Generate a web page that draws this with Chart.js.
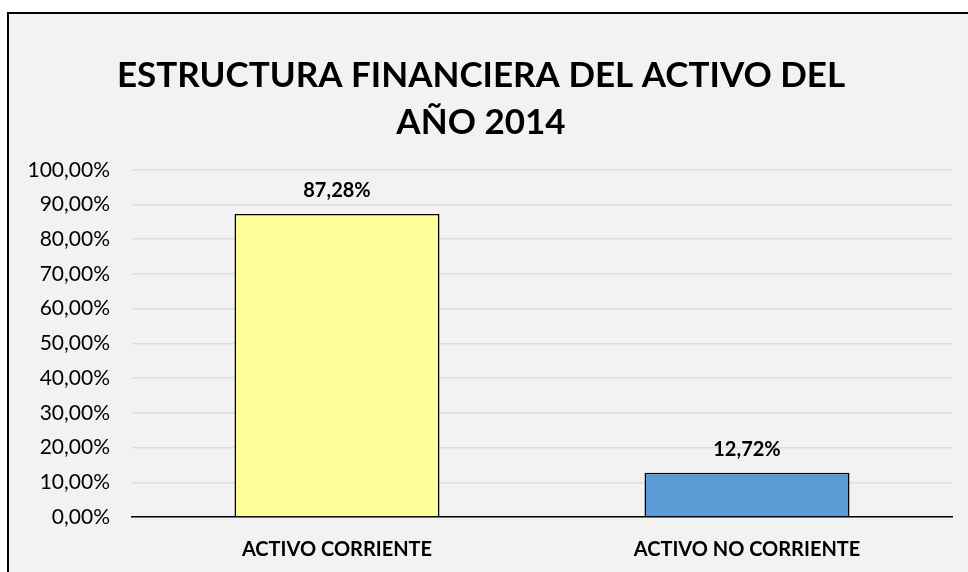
<!DOCTYPE html>
<html>
<head>
<meta charset="utf-8">
<script src="https://cdn.jsdelivr.net/npm/chart.js@4/dist/chart.umd.min.js"></script>
<style>
  html, body { margin:0; padding:0; background:#fff; }
  #wrap { position:relative; width:968px; height:572px; overflow:hidden; }
  #frame { position:absolute; left:7px; top:12px; width:980px; height:600px; background:#f2f2f2; border:2px solid #000; }
  #chart { position:absolute; left:0; top:0; }
</style>
</head>
<body>
<div id="wrap">
  <div id="frame"></div>
  <canvas id="chart" width="968" height="572"></canvas>
</div>
<script>
const categories = ['ACTIVO CORRIENTE', 'ACTIVO NO CORRIENTE'];
const values = [87.28, 12.72];
const barColors = ['#ffff99', '#5b9bd5'];
const titleLines = ['ESTRUCTURA FINANCIERA DEL ACTIVO DEL', 'AÑO 2014'];

const FONT = 'Lato, "Open Sans", sans-serif';
const pct = v => v.toFixed(2).replace('.', ',') + '%';

const valueLabels = {
  id: 'valueLabels',
  afterDatasetsDraw(chart){
    const ctx = chart.ctx;
    const meta = chart.getDatasetMeta(0);
    ctx.save();
    ctx.font = `bold 20px ${FONT}`;
    ctx.fillStyle = '#000';
    ctx.textAlign = 'center';
    ctx.textBaseline = 'middle';
    meta.data.forEach((bar, i) => {
      ctx.fillText(pct(values[i]), bar.x, bar.y - 23);
    });
    ctx.restore();
  }
};

new Chart(document.getElementById('chart').getContext('2d'), {
  type: 'bar',
  data: {
    labels: categories,
    datasets: [{
      data: values,
      backgroundColor: barColors,
      borderColor: '#000',
      borderWidth: 1.5,
      categoryPercentage: 1,
      barPercentage: 0.5
    }]
  },
  options: {
    responsive: false,
    animation: false,
    layout: { padding: { left: 10, right: 16, top: 0, bottom: 0 } },
    plugins: {
      legend: { display: false },
      tooltip: { enabled: false },
      title: {
        display: true,
        text: titleLines,
        color: '#000',
        font: { family: FONT, size: 35, weight: 'bold', lineHeight: 1.34 },
        padding: { top: 52, bottom: 24 }
      }
    },
    scales: {
      y: {
        min: 0, max: 100,
        ticks: { stepSize: 10, callback: v => pct(v), color: '#000', padding: 22,
                 font: { family: FONT, size: 21 } },
        grid: { color: '#dadde2', lineWidth: 1.5, drawTicks: false },
        border: { display: false },
        afterFit: s => { s.width = 122; }
      },
      x: {
        ticks: { color: '#000', padding: 21, font: { family: FONT, size: 20, weight: 'bold' } },
        grid: { display: false, drawTicks: false },
        border: { display: true, color: '#000', width: 1.5 },
        afterFit: s => { s.height = 55; }
      }
    }
  },
  plugins: [valueLabels]
});
</script>
</body>
</html>
